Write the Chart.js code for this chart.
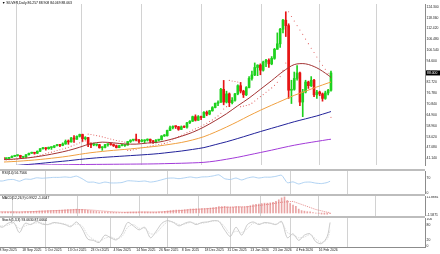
<!DOCTYPE html>
<html>
<head>
<meta charset="utf-8">
<script src="https://cdn.jsdelivr.net/npm/chart.js@4.4.1/dist/chart.umd.min.js"></script>
<style>
  body { margin: 0; width: 440px; height: 254px; overflow: hidden; position: relative; background: #fff; font-family: "Liberation Sans", sans-serif; }
  canvas { position: absolute; left: 0; }
  .sep { position: absolute; left: 0; width: 425px; height: 2px; background: #bdbdbd; }
  .ttl { position: absolute; left: 2px; font-size: 3.4px; line-height: 4px; color: #000; white-space: nowrap; }
</style>
</head>
<body>
<canvas id="mainC" width="440" height="169" style="top:0"></canvas>
<div class="sep" style="top:169px"></div>
<canvas id="rsiC" width="440" height="23" style="top:171px"></canvas>
<div class="sep" style="top:194px"></div>
<canvas id="macdC" width="440" height="20" style="top:196px"></canvas>
<div class="sep" style="top:216px"></div>
<canvas id="stochC" width="440" height="36" style="top:218px"></canvas>

<div class="ttl" style="top:1px">&#9660; SILVER,Daily 86.257 88.908 84.069 88.063</div>
<div class="ttl" style="top:171px">RSI(14) 56.7566</div>
<div class="ttl" style="top:196px">MACD(12,26,9) 0.9922 -1.4047</div>
<div class="ttl" style="top:218px">Stoch(5,3,3) 93.0630 87.0664</div>

<script>
// bars: one per trading day, index 0 = 8 Sep 2025
var opens = [41.0,41.2,40.9,41.1,41.6,42.2,42.6,42.7,41.7,41.7,43.1,43.9,44.1,43.9,45.0,46.4,46.9,46.4,47.0,47.2,48.0,48.6,48.2,49.0,50.5,50.1,52.3,51.6,53.2,54.2,51.9,52.5,48.7,48.5,48.4,48.6,46.9,47.1,48.6,48.9,48.7,48.0,47.0,48.1,48.1,48.4,50.3,51.1,51.3,51.1,50.4,50.7,51.1,51.6,50.6,50.0,51.1,51.3,53.4,53.5,56.4,57.9,58.6,58.5,57.0,58.4,58.2,60.6,61.5,64.0,62.0,64.0,63.5,66.4,65.4,67.2,69.0,71.3,71.9,79.0,72.0,76.5,71.7,73.0,76.5,81.0,78.0,76.0,80.0,85.0,86.9,91.0,92.3,89.5,94.0,95.0,93.0,96.0,101.0,104.0,112.0,117.0,114.0,78.5,79.0,85.0,88.0,72.0,77.5,83.0,81.0,84.0,76.0,77.5,76.5,74.0,77.0,78.5];
var highs = [41.5,41.5,41.3,41.7,42.5,42.8,42.9,42.8,42.0,43.2,44.0,44.5,44.2,45.2,46.5,47.2,47.0,47.3,47.4,48.1,48.8,48.8,49.6,51.2,51.2,52.6,53.6,53.5,54.4,54.4,53.0,52.6,49.6,49.5,49.0,48.8,47.5,48.8,49.1,49.2,49.0,48.4,48.3,48.8,48.6,50.4,51.3,51.5,54.4,51.5,51.5,51.3,51.8,51.7,51.0,51.4,51.5,53.6,54.2,56.6,58.8,58.9,58.9,58.6,58.9,58.9,60.9,61.8,64.3,65.0,64.6,64.3,66.8,67.1,67.5,69.5,71.5,72.7,79.5,83.9,78.0,77.0,74.5,76.8,81.5,82.8,78.5,80.5,86.0,89.0,93.5,92.5,93.0,94.5,95.5,95.8,97.0,101.5,110.0,112.5,117.5,121.6,115.0,84.0,88.5,92.0,88.5,79.0,84.0,83.5,86.0,84.5,78.5,78.0,77.0,78.0,79.0,89.0];
var lows = [40.8,40.8,40.7,40.9,41.5,42.1,42.3,41.5,41.3,41.6,42.9,43.8,43.4,43.7,44.8,46.2,45.6,46.1,46.0,46.9,47.9,47.5,48.0,48.8,48.8,50.0,49.8,51.5,52.8,50.3,51.3,47.5,46.9,48.0,47.9,46.7,45.5,46.8,47.8,48.3,47.6,46.8,46.9,47.9,47.6,48.3,49.8,50.6,50.6,49.5,50.2,49.6,50.6,49.6,49.3,49.6,50.6,51.2,53.1,53.3,56.3,57.2,57.5,56.5,56.9,57.9,57.7,60.2,61.3,61.6,61.9,62.4,63.4,64.5,65.0,67.0,68.8,70.0,71.8,70.5,71.5,69.5,71.0,72.5,76.0,77.0,74.5,75.5,79.8,84.0,86.5,86.5,87.0,89.0,91.5,91.0,92.5,95.5,101.0,102.0,110.0,108.0,74.0,71.2,78.5,84.0,70.0,64.0,77.0,79.5,80.5,75.0,74.0,75.5,72.5,73.5,76.0,78.0];
var closes = [41.2,40.9,41.1,41.6,42.2,42.6,42.7,41.7,41.7,43.1,43.9,44.1,43.9,45.0,46.4,46.9,46.4,47.2,47.2,48.0,48.6,48.2,49.0,50.5,50.1,52.3,51.6,53.2,54.2,51.9,52.5,48.7,48.5,48.6,48.6,46.9,47.1,48.6,48.9,48.7,48.0,47.0,48.1,48.1,48.4,50.3,51.1,51.3,51.1,50.4,50.7,51.1,51.6,50.6,50.0,51.1,51.3,53.4,53.5,56.4,57.9,58.6,58.5,57.0,58.4,58.2,60.6,61.5,64.0,62.0,64.0,63.5,66.4,65.4,67.2,69.0,71.3,71.9,79.0,72.0,76.5,71.7,73.0,76.5,81.0,78.0,76.0,80.0,85.0,86.9,91.0,92.3,89.5,94.0,95.0,93.0,96.0,101.0,104.0,112.0,117.0,114.0,78.5,79.0,85.0,88.0,72.0,77.5,83.0,81.0,84.0,76.0,77.5,76.5,74.0,77.0,78.5,88.0];

// moving averages read every 4th bar
var maIdx = [0,4,8,12,16,20,24,28,32,36,40,44,48,52,56,60,64,68,72,76,80,84,88,92,96,100,104,108,112,116,117];
var maFast = [40.3,40.6,41.1,41.8,42.8,44.0,45.4,47.2,49.2,50.0,49.6,49.0,48.9,49.5,50.0,51.4,53.2,55.4,58.3,61.8,65.6,70.0,74.2,79.0,83.8,88.8,92.6,93.0,90.8,86.8,85.5];
var maMid = [39.0,39.3,39.7,40.2,40.8,41.5,42.3,43.3,44.2,44.9,45.5,46.0,46.6,47.2,47.9,48.8,49.8,51.2,53.0,55.5,58.3,61.3,64.5,67.5,70.3,73.0,75.7,78.0,80.3,82.5,83.0];
var maSlow = [36.5,37.0,37.5,38.0,38.6,39.2,39.8,40.5,41.1,41.6,42.0,42.4,42.8,43.2,43.7,44.4,45.1,46.0,47.0,48.6,50.2,52.0,53.9,55.8,57.6,59.4,61.2,62.8,64.4,66.3,66.8];
var maLong = [37.0,37.1,37.2,37.3,37.45,37.55,37.6,37.7,37.75,37.8,37.85,37.9,37.95,38.0,38.1,38.25,38.4,38.6,38.9,39.6,40.6,41.7,43.0,44.3,45.6,47.0,48.3,49.4,50.4,51.4,51.6];

// parabolic SAR, one per bar
var sar = [40.0,40.1,40.2,40.3,40.4,40.6,40.8,41.0,41.1,41.2,41.4,41.7,42.0,42.3,42.7,43.2,43.7,44.1,44.5,45.0,45.4,45.8,46.2,46.7,47.2,47.8,48.4,49.0,49.6,50.2,50.7,54.4,54.2,53.9,53.6,53.3,52.9,52.5,52.1,51.7,51.3,50.9,50.6,50.3,50.0,45.5,45.6,45.8,46.1,46.5,46.9,47.2,47.5,47.8,48.1,48.4,48.7,49.0,49.3,49.7,50.4,51.3,52.2,53.0,53.8,54.5,55.2,55.8,56.6,57.3,58.0,58.7,59.5,60.4,61.3,62.2,63.3,64.4,65.9,68.2,69.5,83.9,83.6,83.3,83.0,69.5,69.8,70.1,70.6,71.4,72.6,73.8,75.0,76.1,77.4,78.6,79.8,81.2,82.9,86.0,89.5,93.5,121.6,119.0,116.5,114.0,111.6,109.2,106.6,104.1,101.6,99.2,96.8,94.5,92.2,90.0,87.8,63.6];

// oscillators read every 2nd bar
var oscIdx = [0,2,4,6,8,10,12,14,16,18,20,22,24,26,28,30,32,34,36,38,40,42,44,46,48,50,52,54,56,58,60,62,64,66,68,70,72,74,76,78,80,82,84,86,88,90,92,94,96,98,100,102,104,106,108,110,112,114,116,117];
var rsi = [58,57,63,64,56,66,65,72,70,72,74,74,76,74,80,68,52,52,46,52,48,48,50,58,57,55,57,52,56,63,70,71,68,72,76,72,76,77,81,86,68,64,71,62,71,76,71,75,75,79,84,49,53,43,51,52,47,45,50,56];
var stochMain = [80,70,85,88,50,85,80,92,82,80,88,85,80,72,90,65,25,20,12,40,30,22,45,88,75,60,70,30,55,85,95,88,75,85,90,80,88,90,95,92,60,35,70,40,80,90,80,88,85,80,92,30,45,20,40,45,15,8,35,88];
var stochSignal = [78,75,78,85,65,75,82,86,86,80,85,86,82,76,82,75,40,24,16,28,33,26,35,70,80,66,66,45,48,72,90,90,80,82,88,84,85,89,93,93,72,45,55,50,65,85,84,85,86,82,88,50,40,30,33,42,25,12,25,60];

// MACD main, one per bar; signal every 4th bar
var macd = [0.9,0.85,0.8,0.8,0.85,0.9,0.95,0.85,0.8,0.9,1.0,1.1,1.15,1.25,1.4,1.55,1.6,
  1.7,1.75,1.85,1.95,2.0,2.1,2.25,2.3,2.5,2.55,2.7,2.85,2.75,2.7,2.35,2.0,1.75,1.5,1.2,0.95,0.85,0.8,0.75,
  0.65,0.5,0.45,0.4,0.4,0.5,0.65,0.75,0.8,0.8,0.8,0.8,0.85,0.8,0.7,0.7,0.7,0.85,0.95,1.25,
  1.55,1.85,2.05,2.1,2.2,2.25,2.45,2.65,2.95,3.0,3.1,3.1,3.3,3.35,3.5,3.7,3.95,4.15,4.85,4.75,4.95,4.6,
  4.4,4.4,4.7,4.7,4.5,4.6,5.0,5.4,6.0,6.5,6.6,7.0,7.3,7.3,7.5,8.0,8.6,9.8,11.2,11.9,9.3,
  7.1,5.8,4.9,2.9,1.8,1.4,1.0,0.9,0.3,-0.1,-0.4,-0.8,-0.9,-0.9,-0.4];
var macdSignal = [0.95,0.85,0.85,1.0,1.35,1.75,2.1,2.5,2.45,1.75,1.05,0.6,0.6,0.75,0.75,1.0,1.75,2.45,2.95,3.45,4.2,4.5,4.6,5.6,6.6,8.0,8.6,5.6,2.6,0.6,0.3];

// axes
var priceTicks = [124.300,118.360,112.420,106.480,100.540,94.600,88.660,82.720,76.780,70.840,64.900,58.960,53.020,47.080,41.140];
var rsiTicks = [0,30,70,100];
var macdTicks = [-1.5871,0,11.8881];
var stochTicks = [0,20,80,100];
var monthIdx = [17,40,60,82,103,123];
var tickIdx = [1,9,17,25,33,41,49,57,65,73,81,89,97,105,113];
var tickLabels = ["8 Sep 2025","18 Sep 2025","1 Oct 2025","13 Oct 2025","23 Oct 2025","4 Nov 2025","14 Nov 2025","26 Nov 2025","8 Dec 2025","18 Dec 2025","31 Dec 2025","13 Jan 2026","23 Jan 2026","4 Feb 2026","16 Feb 2026"];

var X_MIN = 1.2, X_MAX = 150.3;
var UP = "#1ed21e", DOWN = "#e61414";
var FONT = { family: "Liberation Sans", size: 3.4 };

function pts(idx, vals) {
  return idx.map(function (x, k) { return { x: x, y: vals[k] }; });
}

function gridX() {
  return {
    type: "linear", min: X_MIN, max: X_MAX, offset: false,
    afterBuildTicks: function (s) { s.ticks = monthIdx.map(function (v) { return { value: v }; }); },
    afterFit: function (s) { s.height = 0; s.paddingLeft = 0; s.paddingRight = 0; },
    ticks: { display: false },
    grid: { display: true, color: "#d2d2d2", lineWidth: 1, drawTicks: false },
    border: { display: false }
  };
}

function rightY(min, max, ticks, fmt) {
  return {
    position: "right", min: min, max: max,
    afterBuildTicks: function (s) { s.ticks = ticks.map(function (v) { return { value: v }; }); },
    afterFit: function (s) { s.width = 15; s.paddingTop = 0; s.paddingBottom = 0; },
    ticks: { font: FONT, color: "#222", padding: 1.5, callback: fmt },
    grid: { display: false, drawTicks: false },
    border: { display: true, color: "#8c8c8c", width: 1 }
  };
}

function baseOptions(scales) {
  return {
    responsive: false, animation: false, devicePixelRatio: 1,
    layout: { padding: 0 },
    plugins: { legend: { display: false }, tooltip: { enabled: false } },
    scales: scales
  };
}

function candleColor(ctx) {
  var i = ctx.dataIndex;
  return closes[i] >= opens[i] ? UP : DOWN;
}

// price box on the right axis
var lastPriceBox = {
  id: "lastPriceBox",
  afterDraw: function (chart) {
    var c = chart.ctx, y = chart.scales.y.getPixelForValue(closes[closes.length - 1]);
    var x0 = chart.chartArea.right + 1;
    c.save();
    c.fillStyle = "#000";
    c.fillRect(x0, y - 2.5, 14, 5);
    c.fillStyle = "#fff";
    c.font = "3.4px 'Liberation Sans'";
    c.textBaseline = "middle";
    c.fillText(closes[closes.length - 1].toFixed(3), x0 + 1, y + 0.2);
    c.restore();
  }
};

var barIdx = closes.map(function (c, i) { return i; });

new Chart(document.getElementById("mainC"), {
  type: "bar",
  data: {
    datasets: [
      { type: "line", data: pts(maIdx, maLong), borderColor: "#a23bd8", borderWidth: 1, pointRadius: 0, tension: 0.3 },
      { type: "line", data: pts(maIdx, maSlow), borderColor: "#22229a", borderWidth: 1, pointRadius: 0, tension: 0.3 },
      { type: "line", data: pts(maIdx, maMid), borderColor: "#f0a040", borderWidth: 1, pointRadius: 0, tension: 0.3 },
      { type: "line", data: pts(maIdx, maFast), borderColor: "#a33232", borderWidth: 1, pointRadius: 0, tension: 0.3 },
      { type: "line", data: pts(barIdx, sar), showLine: false, pointRadius: 0.55, pointBorderWidth: 0, pointBackgroundColor: "#e05a5a" },
      { data: barIdx.map(function (i) { return { x: i, y: [lows[i], highs[i]] }; }), backgroundColor: candleColor, barThickness: 1, grouped: false, borderWidth: 0 },
      { data: barIdx.map(function (i) { return { x: i, y: [opens[i], closes[i]] }; }), backgroundColor: candleColor, barThickness: 2, grouped: false, borderWidth: 0, minBarLength: 1 }
    ]
  },
  options: baseOptions({
    x: gridX(),
    y: rightY(37.44, 125.87, priceTicks, function (v) { return v.toFixed(3); })
  }),
  plugins: [lastPriceBox]
});

new Chart(document.getElementById("rsiC"), {
  type: "line",
  data: { datasets: [
    { data: pts(oscIdx, rsi), borderColor: "#9cc7ef", borderWidth: 0.8, pointRadius: 0, tension: 0.2 }
  ] },
  options: baseOptions({
    x: gridX(),
    y: rightY(-4, 104, rsiTicks, function (v) { return String(v); })
  })
});

new Chart(document.getElementById("macdC"), {
  type: "bar",
  data: { datasets: [
    { type: "line", data: pts(maIdx, macdSignal), borderColor: "#e07070", borderWidth: 0.8, borderDash: [1, 1], pointRadius: 0 },
    { data: barIdx.map(function (i) { return { x: i, y: macd[i] }; }), backgroundColor: "#eaa4a4", barThickness: 1, borderWidth: 0 }
  ] },
  options: baseOptions({
    x: gridX(),
    y: rightY(-2.2, 12.6, macdTicks, function (v) { return v === 0 ? "0" : v.toFixed(4); })
  })
});

var labelX = {
  type: "linear", position: "bottom", min: X_MIN, max: X_MAX, offset: false,
  afterBuildTicks: function (s) { s.ticks = tickIdx.map(function (v) { return { value: v }; }); },
  afterFit: function (s) { s.height = 7; s.paddingLeft = 0; s.paddingRight = 0; },
  ticks: { font: FONT, color: "#222", align: "start", maxRotation: 0, autoSkip: false, padding: 1,
    callback: function (v) { return tickLabels[tickIdx.indexOf(v)]; } },
  grid: { display: false, drawTicks: false },
  border: { display: true, color: "#8c8c8c", width: 1 }
};

new Chart(document.getElementById("stochC"), {
  type: "line",
  data: { datasets: [
    { data: pts(oscIdx, stochSignal), borderColor: "#d3d3d3", borderWidth: 0.8, borderDash: [1.5, 1], pointRadius: 0, tension: 0.3 },
    { data: pts(oscIdx, stochMain), borderColor: "#bdbdbd", borderWidth: 0.8, pointRadius: 0, tension: 0.3 }
  ] },
  options: baseOptions({
    x: gridX(),
    xl: labelX,
    y: rightY(-5, 105, stochTicks, function (v) { return String(v); })
  })
});
</script>
</body>
</html>
